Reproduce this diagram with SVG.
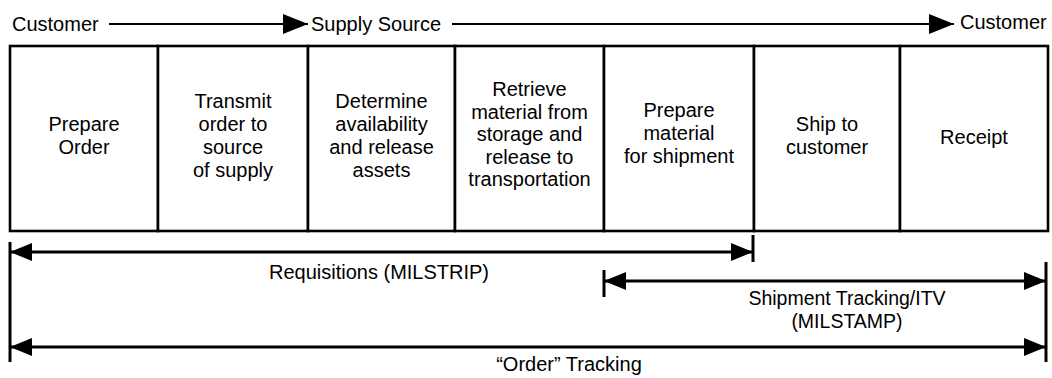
<svg xmlns="http://www.w3.org/2000/svg" width="1052" height="378" viewBox="0 0 1052 378">
<style>
text{font-family:"Liberation Sans",Arial,Helvetica,sans-serif;font-size:20px;fill:#000}
.c{text-anchor:middle}
.s{font-size:19.5px}
.box{fill:#fff;stroke:#000;stroke-width:2.6}
.ln{fill:none;stroke:#000;stroke-width:2.8}
.top{fill:none;stroke:#000;stroke-width:2.2}
.bar{fill:none;stroke:#000;stroke-width:3}
</style>
<defs>
<marker id="ah" markerUnits="userSpaceOnUse" markerWidth="22" markerHeight="18" refX="22" refY="9" orient="auto-start-reverse" viewBox="0 0 22 18">
<path d="M0,0 L22,9 L0,18 z" fill="#000"/>
</marker>
<marker id="ahTop" markerUnits="userSpaceOnUse" markerWidth="25" markerHeight="20" refX="25" refY="10" orient="auto" viewBox="0 0 25 20">
<path d="M0,0 L25,10 L0,20 z" fill="#000"/>
</marker>
</defs>
<rect width="1052" height="378" fill="#fff"/>

<g id="flow-labels">
<g id="customer-start"><text x="12" y="31">Customer</text></g>
<g id="supply-source"><text x="311" y="31">Supply Source</text></g>
<g id="customer-end"><text x="960" y="29">Customer</text></g>
</g>

<g id="step-prepare-order">
<rect class="box" x="10" y="46" width="148" height="185"/>
<text class="c" x="84" y="131">Prepare</text>
<text class="c" x="84" y="154">Order</text>
</g>
<g id="step-transmit">
<rect class="box" x="158" y="46" width="150" height="185"/>
<text class="c" x="233" y="108">Transmit</text>
<text class="c" x="233" y="131">order to</text>
<text class="c" x="233" y="154">source</text>
<text class="c" x="233" y="177">of supply</text>
</g>
<g id="step-determine">
<rect class="box" x="308" y="46" width="147" height="185"/>
<text class="c" x="381.5" y="108">Determine</text>
<text class="c" x="381.5" y="131">availability</text>
<text class="c" x="381.5" y="154">and release</text>
<text class="c" x="381.5" y="177">assets</text>
</g>
<g id="step-retrieve">
<rect class="box" x="455" y="46" width="149" height="185"/>
<text class="c" x="529.5" y="96">Retrieve</text>
<text class="c" x="529.5" y="118.5">material from</text>
<text class="c" x="529.5" y="141">storage and</text>
<text class="c" x="529.5" y="163.5">release to</text>
<text class="c" x="529.5" y="186">transportation</text>
</g>
<g id="step-prepare-material">
<rect class="box" x="604" y="46" width="150" height="185"/>
<text class="c" x="679" y="117">Prepare</text>
<text class="c" x="679" y="140">material</text>
<text class="c" x="679" y="162.5">for shipment</text>
</g>
<g id="step-ship">
<rect class="box" x="754" y="46" width="146" height="185"/>
<text class="c" x="827" y="131">Ship to</text>
<text class="c" x="827" y="154">customer</text>
</g>
<g id="step-receipt">
<rect class="box" x="900" y="46" width="148" height="185"/>
<text class="c" x="974" y="144">Receipt</text>
</g>

<g id="connectors">
<line class="top" x1="109" y1="24" x2="308" y2="24" marker-end="url(#ahTop)"/>
<line class="top" x1="452" y1="24" x2="954" y2="24" marker-end="url(#ahTop)"/>
<line class="bar" x1="10" y1="242" x2="10" y2="362"/>
<line class="bar" x1="753" y1="235" x2="753" y2="262"/>
<line class="bar" x1="604" y1="270" x2="604" y2="297"/>
<line class="bar" x1="1046" y1="262" x2="1046" y2="362"/>
<line class="ln" x1="10" y1="252" x2="753" y2="252" marker-start="url(#ah)" marker-end="url(#ah)"/>
<line class="ln" x1="604" y1="281" x2="1046" y2="281" marker-start="url(#ah)" marker-end="url(#ah)"/>
<line class="ln" x1="10" y1="347" x2="1046" y2="347" marker-start="url(#ah)" marker-end="url(#ah)"/>
</g>

<g id="tracking-labels">
<g id="label-requisitions"><text class="c" x="379" y="279">Requisitions (MILSTRIP)</text></g>
<g id="label-shipment"><text class="c s" x="847" y="305">Shipment Tracking/ITV</text>
<text class="c s" x="847" y="328">(MILSTAMP)</text></g>
<g id="label-order"><text class="c" x="569" y="371">“Order” Tracking</text></g>
</g>
</svg>
